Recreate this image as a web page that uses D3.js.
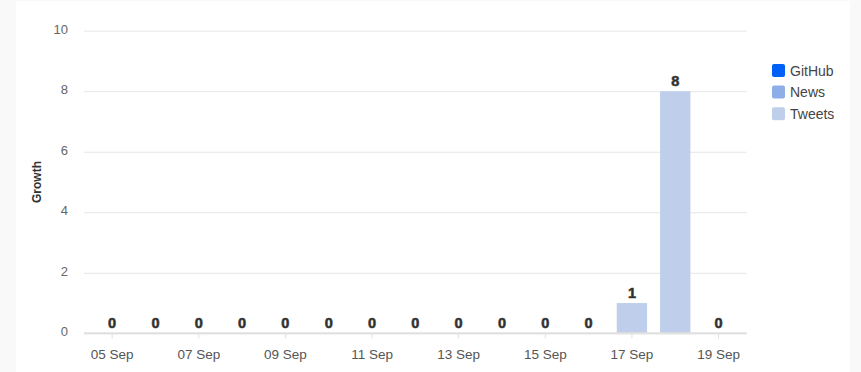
<!DOCTYPE html>
<html>
<head>
<meta charset="utf-8">
<script src="https://cdn.jsdelivr.net/npm/d3@7/dist/d3.min.js"></script>
<style>
  html, body { margin: 0; padding: 0; background: #f9f9f9; }
  svg { display: block; font-family: "Liberation Sans", Arial, sans-serif; }
</style>
</head>
<body>
<svg id="chart" width="861" height="372"></svg>
<script>
// Daily growth by source
const days = ["05 Sep","06 Sep","07 Sep","08 Sep","09 Sep","10 Sep","11 Sep","12 Sep",
              "13 Sep","14 Sep","15 Sep","16 Sep","17 Sep","18 Sep","19 Sep"];
const github = [0,0,0,0,0,0,0,0,0,0,0,0,0,0,0];
const news   = [0,0,0,0,0,0,0,0,0,0,0,0,0,0,0];
const tweets = [0,0,0,0,0,0,0,0,0,0,0,0,1,8,0];
const seriesNames = ["GitHub","News","Tweets"];
const seriesColors = ["#0061f7","#8eaee8","#bfcfeb"];
const yTicks = [0,2,4,6,8,10];
const xTickLabels = ["05 Sep","07 Sep","09 Sep","11 Sep","13 Sep","15 Sep","17 Sep","19 Sep"];
const yTitle = "Growth";

const svg = d3.select("#chart");
const W = 861, H = 372;

// white card
svg.append("rect").attr("x", 16).attr("y", 1).attr("width", 834).attr("height", H - 1).attr("fill", "#ffffff");

const plot = { left: 84, right: 746.7, top: 30.7, bottom: 333.3 };

const x = d3.scaleBand().domain(days).range([plot.left, plot.right]).paddingInner(0.3).paddingOuter(0.3);
const y = d3.scaleLinear().domain([0, 10]).range([plot.bottom, plot.top]);

const rows = days.map((d, i) => ({ day: d, GitHub: github[i], News: news[i], Tweets: tweets[i] }));
const stacked = d3.stack().keys(seriesNames)(rows);

// grid lines
const yAxis = d3.axisLeft(y).tickValues(yTicks).tickSize(-(plot.right - plot.left)).tickPadding(16);
const gy = svg.append("g").attr("transform", `translate(${plot.left},0)`).call(yAxis);
gy.select(".domain").remove();
gy.selectAll(".tick line").attr("stroke", "#e6e6e6").attr("stroke-width", 1);
gy.selectAll(".tick text").attr("fill", "#666").attr("font-size", 13).attr("dy", "0.2em");

// bars
svg.append("g").selectAll("g").data(stacked).join("g")
  .attr("fill", (d, i) => seriesColors[i])
  .selectAll("rect").data(d => d).join("rect")
  .attr("x", d => x(d.data.day))
  .attr("width", x.bandwidth())
  .attr("y", d => y(d[1]))
  .attr("height", d => y(d[0]) - y(d[1]));

// x axis
const xAxis = d3.axisBottom(x).tickValues(xTickLabels).tickSize(5).tickPadding(11);
const gx = svg.append("g").attr("transform", `translate(0,${plot.bottom})`).call(xAxis);
gx.select(".domain").attr("stroke", "#e0e0e0").attr("stroke-width", 2)
  .attr("d", `M${plot.left},0H${plot.right}`);
gx.selectAll(".tick line").attr("stroke", "#e0e0e0");
gx.selectAll(".tick text").attr("fill", "#555").attr("font-size", 13.5);

// totals
svg.append("g").selectAll("text").data(rows).join("text")
  .attr("x", d => x(d.day) + x.bandwidth() / 2)
  .attr("y", d => y(d.GitHub + d.News + d.Tweets) - 5)
  .attr("text-anchor", "middle")
  .attr("font-size", 14.5).attr("font-weight", "bold").attr("fill", "#2b2b2b")
  .attr("stroke", "#444").attr("stroke-width", 0.6)
  .text(d => d.GitHub + d.News + d.Tweets);

// y axis title
svg.append("text")
  .attr("transform", `translate(41,${(plot.top + plot.bottom) / 2}) rotate(-90)`)
  .attr("text-anchor", "middle")
  .attr("font-size", 12).attr("font-weight", "bold").attr("fill", "#333")
  .text(yTitle);

// legend
const legend = svg.append("g").attr("transform", "translate(772,64)");
const li = legend.selectAll("g").data(seriesNames).join("g")
  .attr("transform", (d, i) => `translate(0,${i * 21.6})`);
li.append("rect").attr("width", 13).attr("height", 13).attr("rx", 2)
  .attr("fill", (d, i) => seriesColors[i]);
li.append("text").attr("x", 18).attr("y", 11.5).attr("font-size", 14).attr("fill", "#444").text(d => d);
</script>
</body>
</html>
